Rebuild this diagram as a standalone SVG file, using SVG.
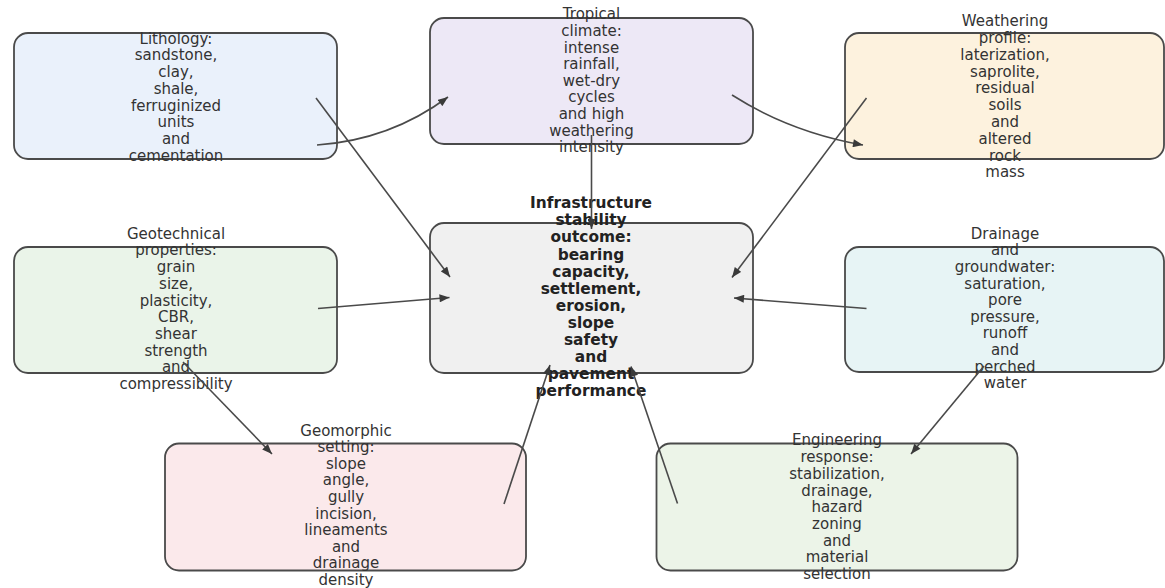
<svg xmlns="http://www.w3.org/2000/svg" width="1165" height="588" viewBox="0 0 1165 588">
<style>
.box{stroke:#4a4a4a;stroke-width:1.8}
.t{font-family:"DejaVu Sans",sans-serif;font-size:15px;fill:#333;text-anchor:middle}
.tb{font-family:"DejaVu Sans",sans-serif;font-size:15.4px;font-weight:bold;fill:#222;text-anchor:middle}
.e{fill:none;stroke:#4a4a4a;stroke-width:1.6}
</style>
<defs>
<marker id="ah" viewBox="0 0 10 8" refX="10" refY="4" markerWidth="11" markerHeight="8" markerUnits="userSpaceOnUse" orient="auto">
<path d="M0,0 L10,4 L0,8 z" fill="#3a3a3a"/>
</marker>
</defs>
<rect width="1165" height="588" fill="#ffffff"/>
<g id="lithology">
<rect class="box" x="14" y="33" width="323" height="126" rx="14" fill="#eaf1fb"/>
<text class="t" x="176" y="43.7"><tspan x="176">Lithology:</tspan><tspan x="176" dy="16.7">sandstone,</tspan><tspan x="176" dy="16.7">clay,</tspan><tspan x="176" dy="16.7">shale,</tspan><tspan x="176" dy="16.7">ferruginized</tspan><tspan x="176" dy="16.7">units</tspan><tspan x="176" dy="16.7">and</tspan><tspan x="176" dy="16.7">cementation</tspan></text>
</g>
<g id="climate">
<rect class="box" x="430" y="18" width="323" height="126" rx="14" fill="#ede8f6"/>
<text class="t" x="591.5" y="19.4"><tspan x="591.5">Tropical</tspan><tspan x="591.5" dy="16.6">climate:</tspan><tspan x="591.5" dy="16.6">intense</tspan><tspan x="591.5" dy="16.6">rainfall,</tspan><tspan x="591.5" dy="16.6">wet-dry</tspan><tspan x="591.5" dy="16.6">cycles</tspan><tspan x="591.5" dy="16.6">and high</tspan><tspan x="591.5" dy="16.6">weathering</tspan><tspan x="591.5" dy="16.6">intensity</tspan></text>
</g>
<g id="weathering">
<rect class="box" x="845" y="33" width="319" height="126" rx="14" fill="#fdf2de"/>
<text class="t" x="1005" y="26.1"><tspan x="1005">Weathering</tspan><tspan x="1005" dy="16.8">profile:</tspan><tspan x="1005" dy="16.8">laterization,</tspan><tspan x="1005" dy="16.8">saprolite,</tspan><tspan x="1005" dy="16.8">residual</tspan><tspan x="1005" dy="16.8">soils</tspan><tspan x="1005" dy="16.8">and</tspan><tspan x="1005" dy="16.8">altered</tspan><tspan x="1005" dy="16.8">rock</tspan><tspan x="1005" dy="16.8">mass</tspan></text>
</g>
<g id="geotechnical">
<rect class="box" x="14" y="247" width="323" height="126" rx="14" fill="#eaf4e9"/>
<text class="t" x="176" y="238.7"><tspan x="176">Geotechnical</tspan><tspan x="176" dy="16.7">properties:</tspan><tspan x="176" dy="16.7">grain</tspan><tspan x="176" dy="16.7">size,</tspan><tspan x="176" dy="16.7">plasticity,</tspan><tspan x="176" dy="16.7">CBR,</tspan><tspan x="176" dy="16.7">shear</tspan><tspan x="176" dy="16.7">strength</tspan><tspan x="176" dy="16.7">and</tspan><tspan x="176" dy="16.7">compressibility</tspan></text>
</g>
<g id="outcome">
<rect class="box" x="430" y="223" width="323" height="150" rx="14" fill="#f0f0f0"/>
<text class="tb" x="591" y="208.2"><tspan x="591">Infrastructure</tspan><tspan x="591" dy="17.1">stability</tspan><tspan x="591" dy="17.1">outcome:</tspan><tspan x="591" dy="17.1">bearing</tspan><tspan x="591" dy="17.1">capacity,</tspan><tspan x="591" dy="17.1">settlement,</tspan><tspan x="591" dy="17.1">erosion,</tspan><tspan x="591" dy="17.1">slope</tspan><tspan x="591" dy="17.1">safety</tspan><tspan x="591" dy="17.1">and</tspan><tspan x="591" dy="17.1">pavement</tspan><tspan x="591" dy="17.1">performance</tspan></text>
</g>
<g id="drainage">
<rect class="box" x="845" y="247" width="319" height="125" rx="14" fill="#e7f4f5"/>
<text class="t" x="1005" y="238.7"><tspan x="1005">Drainage</tspan><tspan x="1005" dy="16.6">and</tspan><tspan x="1005" dy="16.6">groundwater:</tspan><tspan x="1005" dy="16.6">saturation,</tspan><tspan x="1005" dy="16.6">pore</tspan><tspan x="1005" dy="16.6">pressure,</tspan><tspan x="1005" dy="16.6">runoff</tspan><tspan x="1005" dy="16.6">and</tspan><tspan x="1005" dy="16.6">perched</tspan><tspan x="1005" dy="16.6">water</tspan></text>
</g>
<g id="geomorphic">
<rect class="box" x="165" y="443.5" width="361" height="127" rx="14" fill="#fbe9eb"/>
<text class="t" x="346" y="435.5"><tspan x="346">Geomorphic</tspan><tspan x="346" dy="16.6">setting:</tspan><tspan x="346" dy="16.6">slope</tspan><tspan x="346" dy="16.6">angle,</tspan><tspan x="346" dy="16.6">gully</tspan><tspan x="346" dy="16.6">incision,</tspan><tspan x="346" dy="16.6">lineaments</tspan><tspan x="346" dy="16.6">and</tspan><tspan x="346" dy="16.6">drainage</tspan><tspan x="346" dy="16.6">density</tspan></text>
</g>
<g id="engineering">
<rect class="box" x="656.5" y="443.5" width="361" height="127" rx="14" fill="#ecf4e8"/>
<text class="t" x="837" y="445.4"><tspan x="837">Engineering</tspan><tspan x="837" dy="16.7">response:</tspan><tspan x="837" dy="16.7">stabilization,</tspan><tspan x="837" dy="16.7">drainage,</tspan><tspan x="837" dy="16.7">hazard</tspan><tspan x="837" dy="16.7">zoning</tspan><tspan x="837" dy="16.7">and</tspan><tspan x="837" dy="16.7">material</tspan><tspan x="837" dy="16.7">selection</tspan></text>
</g>
<g id="connectors">
<path class="e" d="M316,98 L450,277" marker-end="url(#ah)"/>
<path class="e" d="M317,145 Q390,140 448,97" marker-end="url(#ah)"/>
<path class="e" d="M591.5,135 L591.5,229" marker-end="url(#ah)"/>
<path class="e" d="M732,95 Q790,132 863,145" marker-end="url(#ah)"/>
<path class="e" d="M866.5,98 L732,277.5" marker-end="url(#ah)"/>
<path class="e" d="M318,308.5 L449.5,297.5" marker-end="url(#ah)"/>
<path class="e" d="M866.5,308.5 L734,298" marker-end="url(#ah)"/>
<path class="e" d="M183,362 L272,454" marker-end="url(#ah)"/>
<path class="e" d="M504,504 L550,365" marker-end="url(#ah)"/>
<path class="e" d="M677.5,503.5 L631,366.5" marker-end="url(#ah)"/>
<path class="e" d="M984,366 L911,454" marker-end="url(#ah)"/>
</g>
</svg>
